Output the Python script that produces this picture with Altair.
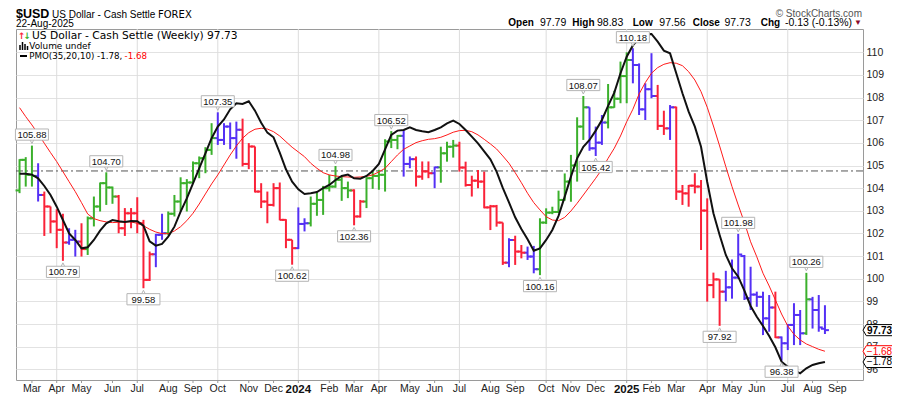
import altair as alt
import pandas as pd

# ---------------- data (weekly bars, Monday-dated) ----------------
FIRST_BAR = "2023-02-20"

impulse = ("GGGB" "RRRR" "BB" "R" "GGGGG" "RRRRRR" "BB" "GGGGGGGG" "BBBB"
           "RRRRRRRRR" "BB" "GGGGGGG" "RR" "GGGGGG" "BB" "RRR" "B" "GGG"
           "RRRRRRRR" "B" "RR" "BB" "GGGGGGGG" "BBB" "GGGG" "BBBB" "RR" "B"
           "RRRRRRRR" "BBBBBBBB" "R" "BBBB" "G" "BBB")

opens = [103.90,105.25,104.59,104.54,103.70,103.19,102.53,102.16,101.60,101.72,
         101.64,101.31,102.67,103.19,104.22,104.03,103.63,102.23,102.89,102.89,
         102.45,99.95,101.08,101.94,102.01,102.87,103.41,104.22,104.25,105.10,
         105.32,105.69,106.21,106.13,106.72,106.21,106.58,105.07,105.84,103.85,
         103.41,103.26,104.00,102.60,101.72,101.35,102.42,102.45,103.31,103.48,
         104.00,104.07,104.37,104.00,103.90,102.75,103.41,104.44,104.54,104.59,
         106.06,106.13,106.31,105.07,105.28,104.51,104.74,104.66,104.92,105.54,
         105.83,105.88,104.91,104.14,104.33,104.29,103.15,103.20,102.48,100.71,
         101.71,101.20,101.15,100.98,100.42,102.48,102.92,102.95,103.48,104.29,
         105.00,106.72,107.57,105.76,106.01,106.90,107.57,107.95,108.95,109.66,
         109.44,107.48,108.37,108.07,106.75,106.64,107.57,103.85,103.77,104.11,
         104.07,103.01,99.72,99.97,99.43,99.62,100.05,101.00,99.14,99.30,
         99.20,98.25,98.73,97.41,97.15,97.96,98.40,97.59,99.09,98.62,
         97.79]
highs = [105.28,105.37,105.88,105.10,103.85,103.19,103.07,102.87,102.23,102.16,
         102.45,102.75,103.63,104.25,104.70,104.07,103.70,103.12,103.12,103.60,
         102.60,101.20,101.98,102.87,102.97,103.70,104.48,104.40,105.18,105.40,
         105.81,106.87,107.35,106.87,106.90,106.94,107.07,105.99,105.84,104.22,
         103.85,104.22,104.25,102.63,101.72,103.15,102.67,103.63,103.81,104.10,
         104.59,104.98,104.51,104.29,103.95,103.48,104.48,104.74,104.81,106.16,
         106.52,106.35,106.55,105.40,105.40,105.18,105.18,104.95,105.83,106.05,
         106.13,106.05,105.17,104.55,104.80,104.73,103.26,103.26,102.48,101.79,
         101.90,101.49,101.42,101.45,102.67,103.11,103.18,103.89,104.65,105.47,
         107.13,108.07,107.57,106.72,107.23,108.60,108.30,109.59,110.00,110.18,
         109.51,108.63,109.96,108.56,107.42,107.67,107.60,104.14,104.14,104.66,
         104.36,103.55,100.27,99.98,100.35,100.85,101.98,101.05,100.53,99.43,
         99.43,99.28,99.43,97.45,98.00,98.92,98.62,100.26,99.20,99.28,
         98.83]
lows = [103.78,104.07,104.07,103.41,101.89,102.01,101.35,100.79,101.50,100.98,
        100.98,101.05,102.31,102.97,103.26,103.31,102.01,101.89,102.23,102.01,
        99.58,99.90,100.51,101.72,101.94,102.75,102.97,102.97,104.22,104.44,
        104.66,105.47,105.91,105.91,105.72,105.30,104.96,104.84,103.81,103.12,
        102.45,103.19,102.58,101.35,100.62,101.31,102.09,102.31,102.78,102.82,
        103.85,104.02,103.44,103.56,102.36,102.70,103.12,103.97,103.93,103.85,
        105.77,105.72,104.51,104.88,104.07,104.37,104.44,104.00,104.24,105.17,
        105.35,104.73,104.07,103.63,104.00,103.11,102.15,102.30,100.61,100.51,
        100.61,100.90,100.83,100.24,100.16,102.42,102.85,102.90,103.45,103.40,
        104.29,106.13,105.65,105.42,105.91,106.64,107.55,107.75,107.75,108.63,
        107.23,107.01,107.97,106.57,106.35,106.13,103.48,103.26,103.18,103.77,
        101.27,98.99,99.14,97.92,99.00,99.12,100.00,99.06,98.62,98.76,
        97.51,97.66,97.38,96.38,96.85,97.07,97.07,97.52,97.80,97.66,
        97.56]
closes = [105.25,104.59,104.54,103.70,103.19,102.53,102.16,101.60,101.72,101.64,
          101.31,102.67,103.19,104.22,104.03,103.63,102.23,102.89,102.89,102.45,
          99.95,101.08,101.94,102.01,102.87,103.41,104.22,104.25,105.10,105.32,
          105.69,106.21,106.13,106.72,106.21,106.58,105.07,105.84,103.85,103.41,
          103.26,104.00,102.60,101.72,101.35,102.42,102.45,103.31,103.48,104.00,
          104.07,104.37,104.00,103.90,102.75,103.41,104.44,104.54,104.59,106.06,
          106.13,106.31,105.07,105.28,104.51,104.74,104.66,104.92,105.54,105.83,
          105.88,104.91,104.14,104.33,104.29,103.15,103.20,102.48,100.71,101.71,
          101.20,101.15,100.98,100.42,102.48,102.92,102.95,103.48,104.29,105.00,
          106.72,107.57,105.76,106.01,106.90,107.57,107.95,108.95,109.66,109.44,
          107.48,108.37,108.07,106.75,106.64,107.57,103.85,103.77,104.11,104.07,
          103.01,99.72,99.97,99.43,99.62,100.05,101.07,99.14,99.30,99.20,
          98.25,98.73,97.41,97.15,97.96,98.40,97.59,99.09,98.62,97.85,
          97.73]
pmo = [-0.025,-0.025,-0.034,-0.068,-0.140,-0.224,-0.333,-0.457,-0.581,-0.643,
       -0.721,-0.711,-0.643,-0.556,-0.488,-0.457,-0.469,-0.475,-0.466,-0.469,
       -0.510,-0.655,-0.696,-0.680,-0.612,-0.519,-0.379,-0.255,-0.115,0.025,
       0.165,0.305,0.413,0.480,0.575,0.631,0.624,0.650,0.562,0.450,
       0.357,0.314,0.171,0.016,-0.100,-0.171,-0.214,-0.208,-0.196,-0.161,
       -0.130,-0.084,-0.047,-0.034,-0.068,-0.072,-0.047,0.000,0.065,0.202,
       0.336,0.376,0.382,0.407,0.382,0.370,0.361,0.382,0.407,0.444,
       0.469,0.438,0.382,0.320,0.258,0.183,0.109,-0.006,-0.158,-0.292,
       -0.432,-0.541,-0.637,-0.743,-0.721,-0.643,-0.550,-0.419,-0.239,-0.053,
       0.118,0.226,0.289,0.376,0.475,0.606,0.730,0.911,1.065,1.170,
       1.237,1.274,1.277,1.205,1.121,1.096,0.910,0.724,0.553,0.413,
       0.226,-0.103,-0.394,-0.596,-0.783,-0.907,-0.985,-1.116,-1.258,-1.358,
       -1.445,-1.538,-1.643,-1.777,-1.824,-1.855,-1.886,-1.839,-1.808,-1.792,
       -1.780]
signal = [0.590,0.506,0.429,0.345,0.258,0.171,0.087,-0.006,-0.100,-0.193,
          -0.295,-0.401,-0.444,-0.463,-0.475,-0.481,-0.478,-0.475,-0.475,-0.488,
          -0.510,-0.544,-0.569,-0.584,-0.584,-0.559,-0.519,-0.463,-0.394,-0.308,
          -0.214,-0.121,-0.037,0.056,0.149,0.233,0.305,0.357,0.389,0.398,
          0.391,0.366,0.326,0.273,0.221,0.177,0.133,0.072,0.025,-0.016,
          -0.037,-0.047,-0.053,-0.056,-0.059,-0.056,-0.050,-0.037,-0.009,0.025,
          0.087,0.149,0.202,0.233,0.264,0.282,0.295,0.301,0.314,0.336,
          0.361,0.376,0.379,0.366,0.336,0.295,0.252,0.205,0.140,0.072,
          -0.016,-0.109,-0.208,-0.295,-0.363,-0.426,-0.457,-0.463,-0.432,-0.373,
          -0.301,-0.224,-0.146,-0.068,0.016,0.118,0.212,0.326,0.459,0.575,
          0.717,0.823,0.911,0.963,0.994,1.009,1.004,0.981,0.925,0.848,
          0.739,0.594,0.419,0.233,0.040,-0.146,-0.317,-0.480,-0.660,-0.800,
          -0.953,-1.072,-1.202,-1.333,-1.445,-1.522,-1.575,-1.612,-1.637,-1.662,
          -1.680]

label_hi_idx = [2, 14, 32, 51, 60, 91, 99, 116, 127]
label_lo_idx = [7, 20, 44, 54, 84, 93, 113, 123]
price_ticks = list(range(96, 111))

# ---------------- layout ----------------
W, H = 847, 351
PRICE_DOM = [95.528, 111.029]
PMO_DOM = [-1.948, 1.323]
GREEN, RED, BLUE = "#3bb02c", "#fa2238", "#5430f5"
LAB_FONT = "Liberation Sans"

dates = pd.date_range(FIRST_BAR, periods=len(closes), freq="7D")
datestr = list(dates.strftime("%Y-%m-%dT00:00:00"))
bars = pd.DataFrame({"date": datestr, "open": opens, "high": highs, "low": lows,
                     "close": closes, "imp": list(impulse), "pmo": pmo, "sig": signal})

# month ticks sit on the first weekly bar of each month
mondays = pd.date_range(FIRST_BAR, "2025-09-29", freq="W-MON")
seen, month_ticks = set(), []
for d in mondays:
    key = (d.year, d.month)
    if key not in seen:
        seen.add(key)
        if key != (2023, 2):
            month_ticks.append(d)
ticks_df = pd.DataFrame({
    "d": [d.strftime("%Y-%m-%dT00:00:00") for d in month_ticks],
    "t": [str(d.year) if d.month == 1 else d.strftime("%b") for d in month_ticks],
    "yr": [d.month == 1 for d in month_ticks],
})
quarters = ticks_df[[d.month in (1, 4, 7, 10) for d in month_ticks]]

xs = alt.Scale(domain=[alt.DateTime(year=2023, month=2, date=16),
                       alt.DateTime(year=2025, month=9, date=30)])
ps = alt.Scale(domain=PRICE_DOM)
ms = alt.Scale(domain=PMO_DOM)
X = alt.X("date:T", scale=xs, axis=None)
C = alt.Color("imp:N", scale=alt.Scale(domain=["G", "R", "B"], range=[GREEN, RED, BLUE]), legend=None)

yaxis = alt.Axis(orient="right", values=price_ticks, grid=True, gridColor="#e2e2e2", ticks=False,
                 domain=False, labelFont=LAB_FONT, labelFontSize=10.5, labelColor="#222",
                 labelPadding=3, title=None)

qgrid = alt.Chart(quarters).mark_rule(color="#dcdcdc", strokeWidth=1).encode(
    x=alt.X("d:T", scale=xs, axis=None), y=alt.value(0), y2=alt.value(H))
xticks = alt.Chart(ticks_df).mark_rule(color="#999", strokeWidth=1).encode(
    x=alt.X("d:T", scale=xs, axis=None), y=alt.value(H), y2=alt.value(H + 3))
month_txt = alt.Chart(ticks_df[~ticks_df["yr"]]).mark_text(
    font=LAB_FONT, fontSize=10.5, color="#222", baseline="alphabetic", align="center").encode(
    x=alt.X("d:T", scale=xs, axis=None), y=alt.value(H + 12), text="t:N")
year_txt = alt.Chart(ticks_df[ticks_df["yr"]]).mark_text(
    font=LAB_FONT, fontSize=11.5, fontWeight="bold", color="#111", baseline="alphabetic",
    align="center").encode(
    x=alt.X("d:T", scale=xs, axis=None), y=alt.value(H + 12.5), text="t:N")

base = alt.Chart(bars)
hl = base.mark_rule(strokeWidth=2).encode(
    x=X, y=alt.Y("low:Q", scale=ps, axis=yaxis), y2="high:Q", color=C)
op = base.mark_rule(strokeWidth=2, xOffset=-4, x2Offset=0).encode(
    x=X, x2="date:T", y=alt.Y("open:Q", scale=ps, axis=None), color=C)
cl = base.mark_rule(strokeWidth=2, xOffset=0, x2Offset=4).encode(
    x=X, x2="date:T", y=alt.Y("close:Q", scale=ps, axis=None), color=C)

zero = alt.Chart(pd.DataFrame({"z": [0.0]})).mark_rule(
    color="#555", strokeWidth=1, strokeDash=[7, 3, 2, 3]).encode(
    y=alt.Y("z:Q", scale=ms, axis=None))
sig_line = base.mark_line(color="#ff1a1a", strokeWidth=1).encode(
    x=X, y=alt.Y("sig:Q", scale=ms, axis=None))
pmo_line = base.mark_line(color="#111", strokeWidth=2).encode(
    x=X, y=alt.Y("pmo:Q", scale=ms, axis=None))

hi_df = pd.DataFrame({"date": [datestr[i] for i in label_hi_idx], "v": [highs[i] for i in label_hi_idx]})
lo_df = pd.DataFrame({"date": [datestr[i] for i in label_lo_idx], "v": [lows[i] for i in label_lo_idx]})
BOX = "M-1,-0.34L1,-0.34L1,0.34L-1,0.34Z"
TRI_DN = "M-1,-1L1,-1L0,1Z"
TRI_UP = "M-1,1L1,1L0,-1Z"


def callouts(df, sign):
    b = alt.Chart(df)
    tri = b.mark_point(shape=TRI_DN if sign < 0 else TRI_UP, size=64, filled=True, fill="white",
                       stroke="#b5b5b5", strokeWidth=1, opacity=1, yOffset=6 * sign).encode(
        x=X, y=alt.Y("v:Q", scale=ps, axis=None))
    box = b.mark_point(shape=BOX, size=33 * 33, filled=True, fill="white", stroke="#b5b5b5",
                       strokeWidth=1, opacity=1, yOffset=11 * sign).encode(
        x=X, y=alt.Y("v:Q", scale=ps, axis=None))
    txt = b.mark_text(font=LAB_FONT, fontSize=9.5, color="#111", baseline="middle",
                      dy=11 * sign + 0.5).encode(
        x=X, y=alt.Y("v:Q", scale=ps, axis=None), text=alt.Text("v:Q", format=".2f"))
    return [tri, box, txt]


ARROW = "M-1,0L-0.78,-0.37L1,-0.37L1,0.37L-0.78,0.37Z"


def endbox(value, scale, stroke, tcolor, weight):
    b = alt.Chart(pd.DataFrame({"v": [value]}))
    box = b.mark_point(shape=ARROW, size=900, filled=True, fill="white", stroke=stroke,
                       strokeWidth=1, opacity=1).encode(
        x=alt.value(W + 15), y=alt.Y("v:Q", scale=scale, axis=None))
    txt = b.mark_text(font=LAB_FONT, fontSize=10, fontWeight=weight, color=tcolor,
                      baseline="middle", align="center", dy=0.5).encode(
        x=alt.value(W + 16.5), y=alt.Y("v:Q", scale=scale, axis=None),
        text=alt.Text("v:Q", format=".2f"))
    return [box, txt]


one = pd.DataFrame({"k": [0]})


def label(text, x, y, size=10, weight="normal", color="#000", align="left", font=LAB_FONT):
    return alt.Chart(one).mark_text(text=text, align=align, baseline="alphabetic", font=font,
                                    fontSize=size, fontWeight=weight, color=color).encode(
        x=alt.value(x), y=alt.value(y))


def bar_icon(x, y0, y1):
    return alt.Chart(one).mark_rule(color="#000", strokeWidth=1.5).encode(
        x=alt.value(x), y=alt.value(y0), y2=alt.value(y1))


texts = [
    label("$USD", 0, -11, 12.5, "bold"),
    label("US Dollar - Cash Settle", 36, -11.5, 10),
    label("FOREX", 142, -11.5, 10, font="DejaVu Sans"),
    label("22-Aug-2025", 0, -2, 10),
    label("\u00a9 StockCharts.com", 846, -12, 10, color="#555", align="right"),
    label("Open", 492.3, -3, 10, "bold"),
    label("97.79", 524, -3, 10.5),
    label("High", 556.3, -3, 10, "bold"),
    label("98.83", 581, -3, 10.5),
    label("Low", 616.7, -3, 10, "bold"),
    label("97.56", 643.3, -3, 10.5),
    label("Close", 676.7, -3, 10, "bold"),
    label("97.73", 708.5, -3, 10.5),
    label("Chg", 744.7, -3, 10, "bold"),
    label("-0.13 (-0.13%)", 769, -3, 10.5),
    label("\u25bc", 838, -4, 8, color="#8b0a2a"),
    label("US Dollar - Cash Settle (Weekly) 97.73", 16, 10.3, 10.7, font="DejaVu Sans"),
    label("\u2191", 2, 10, 9, "bold", color=RED, font="DejaVu Sans"),
    label("\u2193", 7.5, 10, 9, "bold", color=GREEN, font="DejaVu Sans"),
    label("Volume undef", 13.3, 20.3, 8.9, font="DejaVu Sans"),
    label("PMO(35,20,10) -1.78,", 13.3, 30, 8.7, font="DejaVu Sans"),
    label("-1.68", 108.5, 30, 8.7, color="#ff0000", font="DejaVu Sans"),
]
icons = [bar_icon(4, 16, 21), bar_icon(6.5, 13, 21), bar_icon(9, 15, 21), bar_icon(11.5, 17, 21),
         alt.Chart(one).mark_rule(color="#000", strokeWidth=2).encode(
             x=alt.value(4), x2=alt.value(11), y=alt.value(27))]

layers = ([qgrid, xticks, month_txt, year_txt, zero, hl, op, cl, sig_line, pmo_line]
          + callouts(hi_df, -1) + callouts(lo_df, 1)
          + endbox(closes[-1], ps, "#000", "#000", "bold")
          + endbox(signal[-1], ms, "#ff0000", "#ff0000", "normal")
          + endbox(pmo[-1], ms, "#000", "#000", "normal")
          + texts + icons)

chart = alt.layer(*layers).resolve_scale(y="independent").properties(
    width=W, height=H,
    autosize=alt.AutoSizeParams(type="none"),
    padding={"left": 8, "top": 21, "right": 29, "bottom": 16},
    background="white",
).configure_view(stroke="#9a9a9a", strokeWidth=1)

chart.save("out.html", embed_options={"renderer": "svg", "actions": False})
